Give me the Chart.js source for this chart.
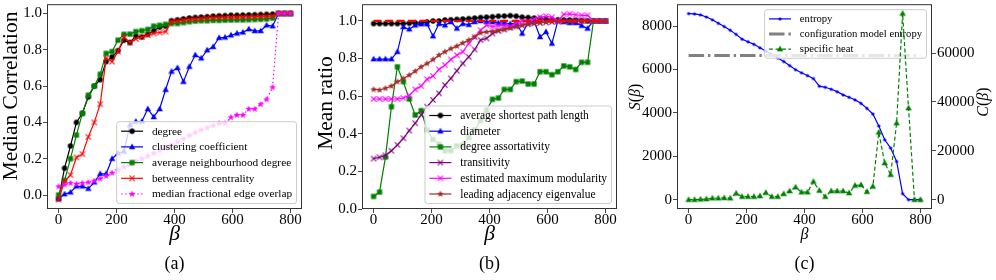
<!DOCTYPE html>
<html><head><meta charset="utf-8">
<script src="https://cdn.jsdelivr.net/npm/chart.js@4.4.1/dist/chart.umd.min.js"></script>
<style>
html,body{margin:0;padding:0;background:#fff;width:996px;height:280px;overflow:hidden;position:relative}
canvas{position:absolute;top:0}
</style></head><body>
<canvas id="ca" width="330" height="280" style="left:0px;width:330px;height:280px"></canvas>
<canvas id="cb" width="330" height="280" style="left:300px;width:330px;height:280px"></canvas>
<canvas id="cc" width="396" height="280" style="left:600px;width:396px;height:280px"></canvas>
<script>
// ---------- data ----------
const beta = [0, 20.5, 41.0, 61.5, 82.1, 102.6, 123.1, 143.6, 164.1, 184.6, 205.1, 225.6, 246.2, 266.7, 287.2, 307.7, 328.2, 348.7, 369.2, 389.7, 410.3, 430.8, 451.3, 471.8, 492.3, 512.8, 533.3, 553.8, 574.4, 594.9, 615.4, 635.9, 656.4, 676.9, 697.4, 717.9, 738.5, 759.0, 779.5, 800.0];
const xTicks = [0, 200, 400, 600, 800];
const yTicksA = [0, 0.2, 0.4, 0.6, 0.8, 1.0];
const yTicksB = [0, 0.2, 0.4, 0.6, 0.8, 1.0];
const yTicksCLeft = [0, 2000, 4000, 6000, 8000];
const yTicksCRight = [0, 20000, 40000, 60000];

// panel (a)
const degreeA = [-0.02,0.148,0.27,0.40,0.45,0.54,0.60,0.635,0.735,0.76,0.795,0.853,0.84,0.875,0.87,0.885,0.905,0.925,0.93,0.96,0.965,0.97,0.975,0.978,0.98,0.982,0.985,0.987,0.988,0.99,0.99,0.991,0.992,0.993,0.994,0.995,0.996,1.0,1.0,1.0];
const clusteringA = [-0.02,0.005,0.015,0.048,0.048,0.035,0.07,0.117,0.117,0.20,0.23,0.24,0.386,0.405,0.405,0.474,0.43,0.474,0.58,0.68,0.70,0.624,0.707,0.771,0.753,0.798,0.816,0.866,0.868,0.88,0.89,0.896,0.914,0.904,0.904,0.935,0.93,1.0,1.0,1.0];
const neighbourA = [0.0,0.08,0.20,0.33,0.45,0.55,0.60,0.665,0.78,0.79,0.853,0.885,0.886,0.90,0.905,0.912,0.93,0.935,0.94,0.945,0.945,0.95,0.955,0.958,0.96,0.96,0.962,0.962,0.963,0.964,0.965,0.965,0.966,0.967,0.968,0.97,0.975,1.0,1.0,1.0];
const betweenA = [-0.025,0.075,0.11,0.207,0.225,0.32,0.40,0.50,0.753,0.735,0.79,0.87,0.84,0.86,0.87,0.88,0.89,0.895,0.90,0.955,0.96,0.963,0.967,0.97,0.972,0.975,0.977,0.978,0.979,0.98,0.98,0.981,0.982,0.983,0.984,0.985,0.987,1.0,1.0,1.0];
const overlapA = [0.047,0.057,0.066,0.062,0.066,0.07,0.078,0.09,0.105,0.122,0.138,0.155,0.17,0.187,0.2,0.215,0.23,0.246,0.262,0.277,0.293,0.31,0.328,0.345,0.358,0.37,0.383,0.395,0.395,0.428,0.441,0.441,0.474,0.474,0.50,0.527,0.593,1.0,1.0,1.0];

// panel (b)
const asplB = [0.986,0.986,0.986,0.986,0.986,0.986,0.988,0.99,0.99,0.995,1.0,1.0,1.005,1.006,1.008,1.01,1.012,1.015,1.018,1.02,1.022,1.025,1.026,1.028,1.025,1.02,1.018,1.015,1.012,1.01,1.008,1.006,1.005,1.005,1.004,1.002,1.0,1.0,1.0,1.0];
const diameterB = [0.797,0.797,0.797,0.797,0.836,0.968,0.956,0.977,0.983,0.983,0.919,0.985,0.977,0.995,0.96,0.985,0.98,0.995,1.0,0.995,0.995,0.99,0.99,0.985,0.99,0.933,0.99,1.0,0.915,0.942,0.88,1.0,0.995,0.99,0.99,0.975,0.96,1.0,1.0,1.0];
const assortB = [0.067,0.09,0.276,0.544,0.756,0.677,0.585,0.50,0.523,0.42,0.37,0.345,0.31,0.31,0.335,0.34,0.38,0.42,0.47,0.525,0.583,0.59,0.636,0.636,0.677,0.68,0.665,0.665,0.73,0.73,0.714,0.73,0.761,0.756,0.742,0.78,0.78,1.0,1.0,1.0];
const transB = [0.268,0.275,0.285,0.31,0.341,0.376,0.417,0.456,0.50,0.544,0.58,0.615,0.659,0.694,0.735,0.774,0.809,0.848,0.898,0.907,0.933,0.947,0.955,0.965,0.972,0.978,0.983,0.987,0.99,0.993,0.995,0.997,0.998,0.999,1.0,1.0,1.0,1.0,1.0,1.0];
const modB = [0.585,0.585,0.585,0.585,0.585,0.59,0.604,0.636,0.654,0.69,0.707,0.742,0.765,0.795,0.818,0.836,0.88,0.915,0.951,0.977,0.97,0.975,0.975,0.97,0.99,1.0,1.0,1.01,1.02,1.025,1.02,1.0,1.035,1.038,1.033,1.03,1.03,1.0,1.0,1.0];
const eigB = [0.636,0.633,0.642,0.654,0.677,0.694,0.712,0.733,0.756,0.774,0.795,0.818,0.836,0.853,0.866,0.883,0.898,0.915,0.937,0.942,0.945,0.95,0.955,0.962,0.97,0.977,0.983,0.988,0.992,0.995,0.998,1.0,1.0,1.0,1.0,1.0,1.0,1.0,1.0,1.0];
const refX = [0, 800];
const refY = [1.0, 1.0];

// panel (c)
const entropyC = [8580,8565,8520,8420,8290,8130,7980,7810,7620,7400,7280,7160,7000,6850,6690,6530,6370,6180,5990,5850,5720,5580,5230,5180,5090,4980,4830,4720,4600,4440,4210,3950,3400,2760,2380,1760,280,0,0,0];
const configX = [0, 800];
const configY = [6640, 6640];
const heatC = [0,0,130,270,590,590,740,590,2590,1230,1230,1230,1500,2850,1230,1230,2390,3540,5110,3070,3070,7370,3750,1230,3550,3550,3550,2735,5800,6060,3270,5445,27530,15000,10220,31360,76200,37500,0,0];

// ---------- helpers ----------
const SERIF = '"Liberation Serif", "DejaVu Serif", "Times New Roman", serif';
const MS = 12;
function marker(kind, color) {
  const c = MS / 2;
  const cv = document.createElement('canvas'); cv.width = MS; cv.height = MS;
  const g = cv.getContext('2d');
  g.fillStyle = color; g.strokeStyle = color;
  g.beginPath();
  if (kind === 'o') { g.arc(c, c, 2.7, 0, Math.PI * 2); g.fill(); }
  else if (kind === '.') { g.arc(c, c, 1.6, 0, Math.PI * 2); g.fill(); }
  else if (kind === 's') { g.fillRect(c - 2.6, c - 2.6, 5.2, 5.2); }
  else if (kind === '^') { g.moveTo(c, c - 3.4); g.lineTo(c + 3.2, c + 2.3); g.lineTo(c - 3.2, c + 2.3); g.closePath(); g.fill(); }
  else if (kind === 'x') { g.lineWidth = 1.1; g.moveTo(c - 2.6, c - 2.6); g.lineTo(c + 2.6, c + 2.6); g.moveTo(c + 2.6, c - 2.6); g.lineTo(c - 2.6, c + 2.6); g.stroke(); }
  else if (kind === '*') {
    for (let i = 0; i < 10; i++) { const r = i % 2 ? 1.5 : 3.6; const a = -Math.PI / 2 + i * Math.PI / 5; g.lineTo(c + r * Math.cos(a), c + r * Math.sin(a)); }
    g.closePath(); g.fill();
  }
  return cv;
}
function series(label, xs, ys, color, mk, extra) {
  return Object.assign({
    label: label,
    data: xs.map((x, i) => ({ x: x, y: ys[i] })),
    borderColor: color, backgroundColor: color, borderWidth: 1.2,
    pointStyle: mk ? marker(mk, color) : 'circle',
    pointRadius: mk ? 3 : 0, pointHoverRadius: mk ? 3 : 0,
    tension: 0, fill: false
  }, extra || {});
}
function roundRect(ctx, x, y, w, h, r) {
  ctx.beginPath();
  ctx.moveTo(x + r, y); ctx.lineTo(x + w - r, y); ctx.arcTo(x + w, y, x + w, y + r, r);
  ctx.lineTo(x + w, y + h - r); ctx.arcTo(x + w, y + h, x + w - r, y + h, r);
  ctx.lineTo(x + r, y + h); ctx.arcTo(x, y + h, x, y + h - r, r);
  ctx.lineTo(x, y + r); ctx.arcTo(x, y, x + r, y, r); ctx.closePath();
}
function drawLegend(chart, L) {
  const ctx = chart.ctx, a = chart.chartArea, fs = L.fontSize;
  const items = L.items.map(i => chart.data.datasets[i]);
  ctx.save();
  ctx.font = fs + 'px ' + SERIF;
  const tw = Math.max.apply(null, items.map(d => ctx.measureText(d.label).width));
  const pad = 4.4, hl = 22, htp = 8.8, bap = 5.5;
  const w = pad + hl + htp + tw + pad;
  const h = 2 * pad + items.length * L.rowH + (items.length - 1) * L.gap;
  const x0 = a.right - bap - w;
  const y0 = L.loc === 'upper right' ? a.top + bap : a.bottom - bap - h;
  roundRect(ctx, x0, y0, w, h, 2.5);
  ctx.fillStyle = 'rgba(255,255,255,0.8)'; ctx.fill();
  ctx.strokeStyle = '#cccccc'; ctx.lineWidth = 1; ctx.stroke();
  items.forEach((d, j) => {
    const cy = y0 + pad + L.rowH / 2 + j * (L.rowH + L.gap);
    const hx0 = x0 + pad, hx1 = hx0 + hl;
    ctx.beginPath();
    ctx.setLineDash(d.borderDash || []);
    ctx.lineWidth = d.borderWidth; ctx.strokeStyle = d.borderColor;
    ctx.moveTo(hx0, cy); ctx.lineTo(hx1, cy); ctx.stroke();
    ctx.setLineDash([]);
    if (d.pointRadius > 0 && typeof d.pointStyle === 'object') ctx.drawImage(d.pointStyle, (hx0 + hx1) / 2 - MS / 2, cy - MS / 2);
    ctx.fillStyle = '#000'; ctx.textAlign = 'left'; ctx.textBaseline = 'middle';
    ctx.fillText(d.label, hx1 + htp, cy + 0.5);
  });
  ctx.restore();
}
function drawText(ctx, t) {
  ctx.save();
  ctx.fillStyle = '#000'; ctx.textBaseline = 'middle'; ctx.textAlign = 'left';
  const fonts = t.parts.map(p => (p.it ? 'italic ' : '') + t.size + 'px ' + SERIF);
  let total = 0;
  const widths = t.parts.map((p, i) => { ctx.font = fonts[i]; const w = ctx.measureText(p.t).width; total += w; return w; });
  ctx.translate(t.x, t.y);
  if (t.rot) ctx.rotate(t.rot);
  let x = -total / 2;
  t.parts.forEach((p, i) => { ctx.font = fonts[i]; ctx.fillText(p.t, x, 0); x += widths[i]; });
  ctx.restore();
}
function deco(cfg) {
  return {
    id: cfg.id,
    afterDatasetDraw(chart, args) { if (cfg.legend && cfg.legend.afterIndex === args.index) drawLegend(chart, cfg.legend); },
    afterDatasetsDraw(chart) { if (cfg.legend && cfg.legend.afterIndex === undefined) drawLegend(chart, cfg.legend); },
    afterDraw(chart) {
      const ctx = chart.ctx, a = chart.chartArea;
      ctx.save();
      ctx.strokeStyle = '#333'; ctx.lineWidth = 1; ctx.setLineDash([]);
      ctx.strokeRect(a.left + 0.5, a.top + 0.5, a.right - a.left - 1, a.bottom - a.top - 1);
      ctx.restore();
      (cfg.texts || []).forEach(t => drawText(ctx, t));
    }
  };
}
const tickFont = { family: SERIF, size: 15, lineHeight: 1 };
const gridOpt = { display: true, drawOnChartArea: false, drawTicks: true, tickLength: 4, color: '#333', lineWidth: 0.9 };
function xScale(h, tsize, tpad) {
  return {
    type: 'linear', min: -40, max: 840,
    grid: gridOpt, border: { display: false },
    ticks: { font: tickFont, color: '#000', padding: 0, maxRotation: 0, autoSkip: false, callback: v => String(v) },
    afterBuildTicks: s => { s.ticks = xTicks.map(v => ({ value: v })); },
    afterFit: s => { s.height = h; s.paddingLeft = 0; s.paddingRight = 0; },
    title: { display: true, text: 'β', color: '#000', font: { family: SERIF, size: tsize, style: 'italic', lineHeight: 1.2 }, padding: { top: 0, bottom: tpad } }
  };
}
function yScale(min, max, ticks, fmt, width, position) {
  return {
    type: 'linear', position: position, min: min, max: max,
    grid: gridOpt, border: { display: false },
    ticks: { font: tickFont, color: '#000', padding: 1, autoSkip: false, callback: fmt },
    afterBuildTicks: s => { s.ticks = ticks.map(v => ({ value: v })); },
    afterFit: s => { s.width = width; s.paddingTop = 0; s.paddingBottom = 0; }
  };
}
const base = { responsive: false, animation: false, events: [], devicePixelRatio: 1,
  plugins: { legend: { display: false }, tooltip: { enabled: false }, title: { display: false } } };
const ROT = -Math.PI / 2;

// ---------- panel (a) ----------
const dsA = [
  series('degree', beta, degreeA, 'black', 'o'),
  series('clustering coefficient', beta, clusteringA, 'blue', '^'),
  series('average neighbourhood degree', beta, neighbourA, 'green', 's'),
  series('betweenness centrality', beta, betweenA, 'red', 'x'),
  series('median fractional edge overlap', beta, overlapA, 'magenta', '*', { borderDash: [1.5, 2.5] })
];
dsA.forEach((d, i) => d.order = -i);
new Chart(document.getElementById('ca'), {
  type: 'line', data: { datasets: dsA },
  options: Object.assign({}, base, {
    layout: { padding: { left: 0, right: 28, top: 4, bottom: 30 } },
    scales: { x: xScale(41, 21.5, 2.3), y: yScale(-0.077, 1.051, yTicksA, v => v.toFixed(1), 47, 'left') }
  }),
  plugins: [deco({ id: 'decoA',
    legend: { items: [0, 1, 2, 3, 4], loc: 'lower right', fontSize: 11.3, rowH: 10.2, gap: 5.5 },
    texts: [
      { parts: [{ t: 'Median Correlation' }], x: 11, y: 96, size: 21.5, rot: ROT },
      { parts: [{ t: '(a)' }], x: 174.5, y: 264, size: 18 }
    ] })]
});

// ---------- panel (b) ----------
const dsB = [
  series('average shortest path length', beta, asplB, 'black', 'o'),
  series('diameter', beta, diameterB, 'blue', '^'),
  series('degree assortativity', beta, assortB, 'green', 's'),
  series('transitivity', beta, transB, 'purple', 'x'),
  series('estimated maximum modularity', beta, modB, 'magenta', 'x'),
  series('leading adjacency eigenvalue', beta, eigB, 'brown', '*'),
  series('', refX, refY, 'red', null, { borderDash: [8, 3.5], borderWidth: 2.2 })
];
dsB.forEach((d, i) => d.order = -i);
new Chart(document.getElementById('cb'), {
  type: 'line', data: { datasets: dsB },
  options: Object.assign({}, base, {
    layout: { padding: { left: 0, right: 13, top: 4, bottom: 30 } },
    scales: { x: xScale(41, 21.5, 2.3), y: yScale(0, 1.089, yTicksB, v => v.toFixed(1), 62, 'left') }
  }),
  plugins: [deco({ id: 'decoB',
    legend: { items: [0, 1, 2, 3, 4, 5], loc: 'lower right', fontSize: 11.5, rowH: 10.2, gap: 5.5 },
    texts: [
      { parts: [{ t: 'Mean ratio' }], x: 26, y: 103, size: 21.5, rot: ROT },
      { parts: [{ t: '(b)' }], x: 189.5, y: 264, size: 18 }
    ] })]
});

// ---------- panel (c) ----------
const dsC = [
  series('entropy', beta, entropyC, 'blue', '.', { yAxisID: 'y' }),
  series('configuration model entropy', configX, configY, 'gray', null, { yAxisID: 'y', borderWidth: 3, borderDash: [15.5, 3.9, 2.4, 3.9] }),
  series('specific heat', beta, heatC, 'green', '^', { yAxisID: 'y2', borderDash: [4, 2.5] })
];
dsC.forEach((d, i) => d.order = -i);
new Chart(document.getElementById('cc'), {
  type: 'line', data: { datasets: dsC },
  options: Object.assign({}, base, {
    layout: { padding: { left: 0, right: 0, top: 4, bottom: 30 } },
    scales: {
      x: xScale(41, 16, 6),
      y: yScale(-430, 9010, yTicksCLeft, v => String(v), 77, 'left'),
      y2: yScale(-3810, 80010, yTicksCRight, v => String(v), 64, 'right')
    }
  }),
  plugins: [deco({ id: 'decoC',
    legend: { items: [0, 1, 2], loc: 'upper right', fontSize: 10.7, rowH: 9.6, gap: 5.5, afterIndex: 1 },
    texts: [
      { parts: [{ t: 'S', it: true }, { t: '(' }, { t: 'β', it: true }, { t: ')' }], x: 36, y: 97, size: 16, rot: ROT },
      { parts: [{ t: 'C', it: true }, { t: '(' }, { t: 'β', it: true }, { t: ')' }], x: 384, y: 102, size: 16, rot: ROT },
      { parts: [{ t: '(c)' }], x: 204.5, y: 264, size: 18 }
    ] })]
});
</script>
</body></html>
